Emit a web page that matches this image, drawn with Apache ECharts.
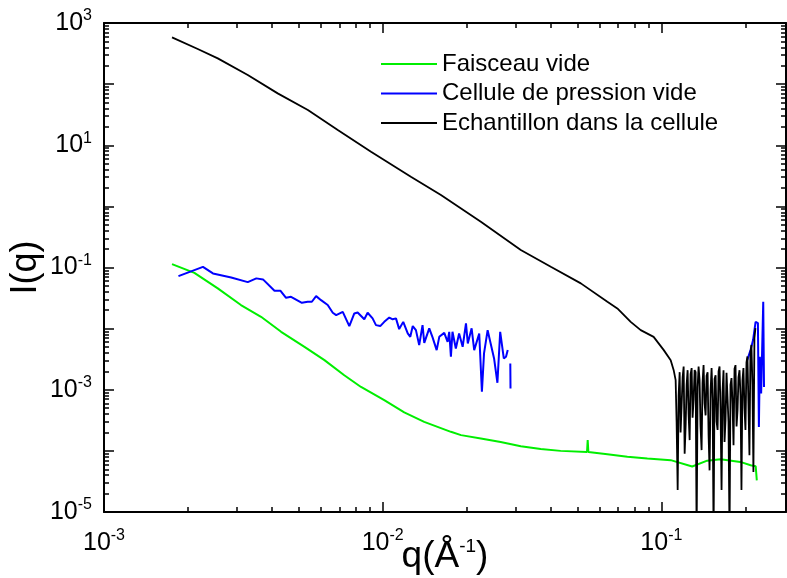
<!DOCTYPE html>
<html>
<head>
<meta charset="utf-8">
<script src="https://cdn.jsdelivr.net/npm/echarts@6/dist/echarts.min.js"></script>
<style>html,body{margin:0;padding:0;background:#fff}#c{width:787px;height:578px}</style>
</head>
<body>
<div id="c"></div>
<script>
// ---- data ----
const seriesNames = ['Faisceau vide', 'Cellule de pression vide', 'Echantillon dans la cellule'];

const greenQ = [0.001754, 0.00211, 0.00256, 0.0031, 0.00366, 0.00432, 0.00524, 0.00618, 0.00728, 0.00836, 0.01013, 0.01195, 0.01409, 0.01757, 0.0191, 0.0225, 0.0265, 0.0313, 0.0369, 0.0435, 0.0541, 0.0544, 0.0547, 0.064, 0.0755, 0.0891, 0.108, 0.129, 0.146, 0.163, 0.192, 0.209, 0.218, 0.22];
const greenI = [0.1138, 0.0818, 0.0455, 0.0243, 0.0156, 0.00887, 0.00504, 0.00305, 0.00173, 0.00111, 6.76e-4, 4.25e-4, 2.98e-4, 2.05e-4, 1.81e-4, 1.6e-4, 1.4e-4, 1.19e-4, 1.07e-4, 1.0e-4, 9.6e-5, 1.5e-4, 9.6e-5, 8.8e-5, 7.98e-5, 7.5e-5, 7.05e-5, 5.56e-5, 6.92e-5, 7.3e-5, 6.6e-5, 5.83e-5, 5.6e-5, 3.3e-5];

const blueQ = [0.00185, 0.002265, 0.00246, 0.00286, 0.00328, 0.00352, 0.00372, 0.00409, 0.0043, 0.0045, 0.00469, 0.00513, 0.00538, 0.00557, 0.00577, 0.00601, 0.00635, 0.00662, 0.00681, 0.00719, 0.00759, 0.00791, 0.00813, 0.00859, 0.00883, 0.0092, 0.00946, 0.0098, 0.01013, 0.01056, 0.01086, 0.01116, 0.01146, 0.01185, 0.0123, 0.01256, 0.01282, 0.01316, 0.01352, 0.0139, 0.0141, 0.01469, 0.0151, 0.01562, 0.01596, 0.01663, 0.0171, 0.01733, 0.01757, 0.0178, 0.0183, 0.0188, 0.01936, 0.0199, 0.0202, 0.02085, 0.0213, 0.0222, 0.0227, 0.0231, 0.0238, 0.0244, 0.0251, 0.0258, 0.0264, 0.0272, 0.0277, 0.0281, 0.0284, 0.0287, 0.02875, 0.1, 0.2033, 0.2089, 0.2133, 0.2178, 0.222, 0.2238, 0.2256, 0.228, 0.232, 0.2335];
const blueI = [0.0723, 0.1026, 0.08, 0.0688, 0.0577, 0.0664, 0.0639, 0.0416, 0.0416, 0.0319, 0.0331, 0.0264, 0.0275, 0.0275, 0.034, 0.0292, 0.0243, 0.0182, 0.0166, 0.0188, 0.011, 0.0177, 0.0184, 0.0142, 0.0182, 0.0147, 0.0114, 0.011, 0.0129, 0.0152, 0.0142, 0.0147, 0.00982, 0.0129, 0.00834, 0.00734, 0.011, 0.00944, 0.00537, 0.0114, 0.00586, 0.0101, 0.00718, 0.00445, 0.00734, 0.00853, 0.00608, 0.00887, 0.00346, 0.00887, 0.00474, 0.00834, 0.00504, 0.0122, 0.00573, 0.0101, 0.00445, 0.00834, 9.25e-4, 0.00393, 0.00944, 0.00573, 0.00325, 0.0013, 0.00887, 0.00325, 0.00346, 0.00445, null, 0.00269, 0.00105, null, 0.00305, 0.00445, 0.00649, 0.0129, 0.0123, 2.47e-4, 0.00346, 8.7e-4, 0.0275, 0.00111];

const blackQ = [0.001754, 0.00217, 0.00256, 0.00328, 0.0042, 0.00539, 0.0069, 0.00908, 0.01262, 0.01618, 0.0225, 0.0313, 0.0401, 0.0514, 0.064, 0.0695, 0.0776, 0.0843, 0.0938, 0.102, 0.108, 0.1107,
  0.1125, 0.1134, 0.1144, 0.1153, 0.1163, 0.1172, 0.1182, 0.1192, 0.1202, 0.1212, 0.1222, 0.1232, 0.1242, 0.1252, 0.1263, 0.1273, 0.1284, 0.1294, 0.1305, 0.1316,
  0.1327, 0.1338, 0.1349, 0.1360, 0.1371, 0.1382, 0.1394, 0.1405, 0.1417, 0.1429, 0.1441, 0.1453, 0.1465, 0.1477, 0.1489, 0.1502, 0.1514, 0.1527, 0.1539, 0.1552,
  0.1565, 0.1578, 0.1591, 0.1604, 0.1617, 0.1630, 0.1644, 0.1657, 0.1671, 0.1685, 0.1699, 0.1713, 0.1727, 0.1741, 0.1756, 0.1770, 0.1785, 0.1800, 0.1815, 0.1830,
  0.1845, 0.1861, 0.1876, 0.1891, 0.1907, 0.1923, 0.1938, 0.1954, 0.1970, 0.1987, 0.2003, 0.2020, 0.2036, 0.2053, 0.2070, 0.2087, 0.2104, 0.2122, 0.2139, 0.2157, 0.2175];
const blackI = [583, 375, 264, 141, 70.6, 37.7, 17.7, 7.83, 3.05, 1.53, 0.56, 0.193, 0.1026, 0.055, 0.0275, 0.0214, 0.0129, 0.00944, 0.00734, 0.00445, 0.00305, 0.00209,
  1.44e-3, 3.0e-4, 2.3e-5, 8.0e-4, 1.94e-3, 2.0e-4, 5.6e-4, 1.6e-3, 2.4e-3, 9.0e-5, 2.6e-4, 1.2e-3, 2.09e-3, 4.0e-4, 1.5e-4, 1.8e-3, 2.26e-3, 3.5e-4, 6.8e-4, 2.1e-3,
  1.94e-3, 4e-6, 1.1e-3, 2.4e-3, 1.44e-3, 2.5e-4, 1.03e-4, 1.3e-3, 2.53e-3, 6.0e-4, 3.8e-4, 1.7e-3, 1.94e-3, 1.8e-4, 4.8e-5, 1.0e-3, 2.26e-3, 7.0e-4, 4e-6, 1.5e-3,
  1.73e-3, 3.0e-4, 2.2e-4, 2.0e-3, 2.4e-3, 5.0e-4, 2.3e-5, 9.0e-4, 2.09e-3, 1.4e-4, 3.2e-4, 1.9e-3, 1.94e-3, 3.0e-4, 4e-6, 1.2e-3, 1.55e-3, 6.0e-4, 1.24e-4, 2.2e-3,
  2.53e-3, 2.5e-4, 4.6e-4, 1.6e-3, 2.09e-3, 8.0e-4, 2.3e-5, 1.4e-3, 2.26e-3, 5.0e-4, 2.2e-4, 2.8e-3, 3.5e-3, 6.0e-4, 8.5e-5, 4.0e-3, 5.4e-3, 1.2e-3, 4.5e-5, 7.0e-3, 0.0102];

// axis ranges (data units) and decade exponents used for ticks / labels
const X_MIN = 0.001, X_MAX = 0.28, Y_MIN = 1e-5, Y_MAX = 1000;
const xLabelExps = [-3, -2, -1];
const yLabelExps = [-5, -3, -1, 1, 3];

// minor ticks at 2..9 of each decade (as exponents)
const xMinorExp = [];
[-3, -2, -1].forEach(e => { for (let k = 2; k <= 9; k++) { const v = k * Math.pow(10, e); if (v < X_MAX) xMinorExp.push(Math.log10(v)); } });
const yMinorExp = [];
[-5, -4, -3, -2, -1, 0, 1, 2].forEach(e => { for (let k = 2; k <= 9; k++) yMinorExp.push(Math.log10(k * Math.pow(10, e))); });

const zip = (a, b) => a.map((q, i) => [q, b[i] == null ? null : b[i]]);

// ---- chart ----
const FONT = 'Liberation Sans';
const LX0 = Math.log10(X_MIN), LX1 = Math.log10(X_MAX), LY0 = Math.log10(Y_MIN), LY1 = Math.log10(Y_MAX);
const labelRich = {
  b: { fontSize: 25, fontFamily: FONT, color: '#000', lineHeight: 30 },
  s: { fontSize: 16, fontFamily: FONT, color: '#000', verticalAlign: 'top', lineHeight: 16 }
};
const makeFmt = list => v => { const e = Math.round(v); return (Math.abs(v - e) < 1e-6 && list.indexOf(e) >= 0) ? '{b|10}{s|' + e + '}' : ''; };
const lineStyleAxis = { color: '#000', width: 2 };

// data axes (log scale) carrying the series; drawn invisibly
const xData = { type: 'log', logBase: 10, min: X_MIN, max: X_MAX, show: false, gridIndex: 0 };
const yData = { type: 'log', logBase: 10, min: Y_MIN, max: Y_MAX, show: false, gridIndex: 0 };

// decade tick axes in exponent space (same extent as the log axes)
function tickAx(dim, pos, kind, withLabels) {
  const isX = dim === 'x';
  const ax = {
    type: 'value', min: isX ? LX0 : LY0, max: isX ? LX1 : LY1, position: pos, gridIndex: 0,
    axisLine: { show: kind === 'major', onZero: false, lineStyle: lineStyleAxis },
    axisTick: { show: true, inside: true, length: kind === 'major' ? 10 : 5, lineStyle: { color: '#000', width: 1.5 } },
    axisLabel: { show: false },
    splitLine: { show: false }, minorTick: { show: false }
  };
  if (kind === 'major') { ax.interval = 1; }
  else { ax.axisTick.customValues = isX ? xMinorExp : yMinorExp; }
  if (withLabels) {
    ax.axisLabel = { show: true, formatter: makeFmt(isX ? xLabelExps : yLabelExps), rich: labelRich, margin: isX ? 16 : 12, showMaxLabel: true, showMinLabel: true };
    ax.nameLocation = 'middle';
    ax.nameMoveOverlap = false;
    if (isX) {
      ax.name = '{n|q(Å}{s|-1}{n|)}';
      ax.nameGap = 25;
      ax.nameTextStyle = { rich: {
        n: { fontSize: 37, fontFamily: FONT, color: '#000', lineHeight: 40 },
        s: { fontSize: 19, fontFamily: FONT, color: '#000', verticalAlign: 'top', lineHeight: 22 }
      } };
    } else {
      ax.name = 'I(q)';
      ax.nameGap = 60;
      ax.nameTextStyle = { fontSize: 36, fontFamily: FONT, color: '#000' };
    }
  }
  return ax;
}

const chart = echarts.init(document.getElementById('c'), null, { renderer: 'canvas' });
chart.setOption({
  animation: false,
  backgroundColor: '#fff',
  grid: { left: 104, right: 1, top: 23, bottom: 66, containLabel: false, outerBoundsMode: 'none' },
  legend: {
    orient: 'vertical', left: 376, top: 47, itemWidth: 56, itemHeight: 2, itemGap: 5.5, icon: 'rect',
    data: seriesNames,
    textStyle: { fontSize: 24, fontFamily: FONT, color: '#000', lineHeight: 24 }
  },
  xAxis: [xData, tickAx('x', 'bottom', 'major', true), tickAx('x', 'bottom', 'minor', false), tickAx('x', 'top', 'major', false), tickAx('x', 'top', 'minor', false)],
  yAxis: [yData, tickAx('y', 'left', 'major', true), tickAx('y', 'left', 'minor', false), tickAx('y', 'right', 'major', false), tickAx('y', 'right', 'minor', false)],
  series: [
    { name: seriesNames[0], type: 'line', xAxisIndex: 0, yAxisIndex: 0, data: zip(greenQ, greenI), showSymbol: false, symbol: 'none', color: '#00ee00', lineStyle: { width: 2, color: '#00ee00' }, clip: true, connectNulls: false },
    { name: seriesNames[1], type: 'line', xAxisIndex: 0, yAxisIndex: 0, data: zip(blueQ, blueI), showSymbol: false, symbol: 'none', color: '#0000ff', lineStyle: { width: 2, color: '#0000ff' }, clip: true, connectNulls: false },
    { name: seriesNames[2], type: 'line', xAxisIndex: 0, yAxisIndex: 0, data: zip(blackQ, blackI), showSymbol: false, symbol: 'none', color: '#000000', lineStyle: { width: 1.8, color: '#000000' }, clip: true, connectNulls: false }
  ]
});
</script>
</body>
</html>
